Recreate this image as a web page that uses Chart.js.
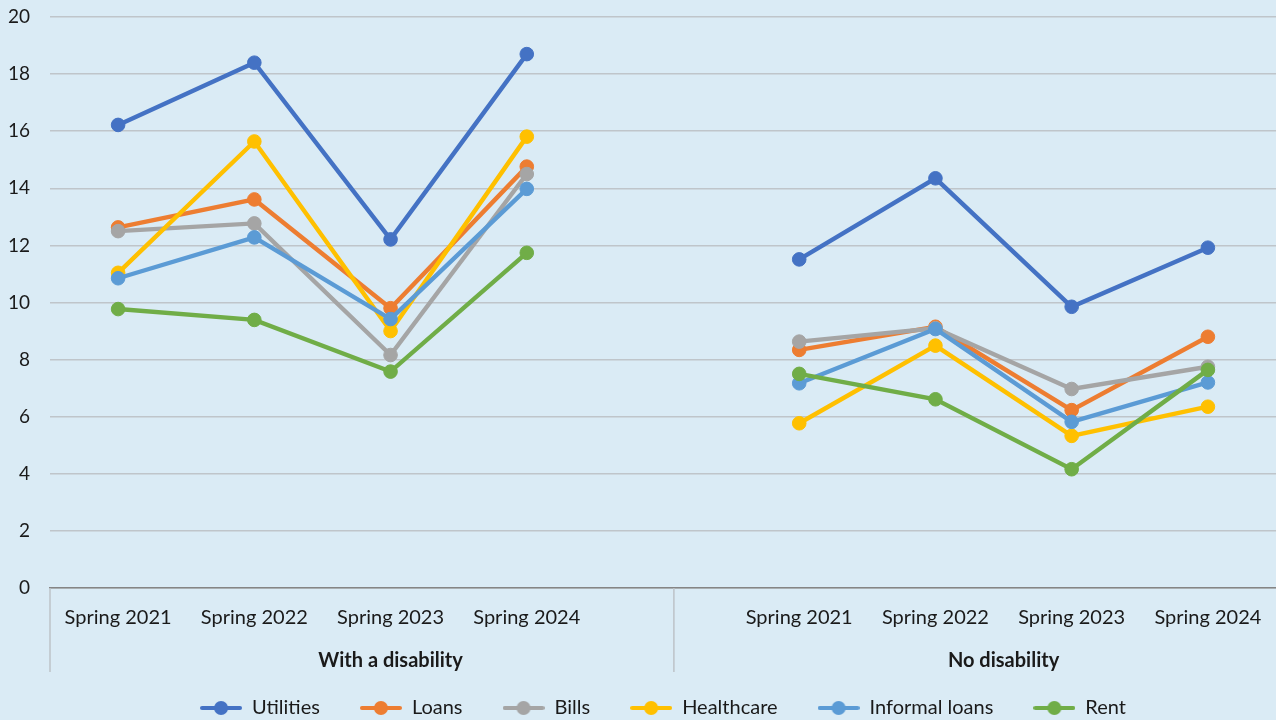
<!DOCTYPE html>
<html>
<head>
<meta charset="utf-8">
<title>Hardship by disability status</title>
<script src="https://cdn.jsdelivr.net/npm/chart.js@4.4.1/dist/chart.umd.min.js"></script>
<style>
  html, body { margin: 0; padding: 0; background: #DAEBF5; }
  #wrap { width: 1276px; height: 720px; position: relative; }
  canvas { display: block; }
</style>
</head>
<body>
<div id="wrap"><canvas id="chart" width="1276" height="720"></canvas></div>
<script>
// Category axis: two groups of survey waves, separated by a blank slot
const categories = ['Spring 2021', 'Spring 2022', 'Spring 2023', 'Spring 2024', '',
                    'Spring 2021', 'Spring 2022', 'Spring 2023', 'Spring 2024'];
const groupLabels = ['With a disability', 'No disability'];
const groupStarts = [0, 5];
const groupEnds = [4, 8];

const seriesNames = ['Utilities', 'Loans', 'Bills', 'Healthcare', 'Informal loans', 'Rent'];

const utilities     = [16.22, 18.40, 12.21, 18.70, null, 11.51, 14.35, 9.85, 11.92];
const loans         = [12.63, 13.61, 9.80, 14.76, null, 8.34, 9.15, 6.23, 8.80];
const bills         = [12.50, 12.77, 8.16, 14.50, null, 8.63, 9.10, 6.97, 7.75];
const healthcare    = [11.04, 15.64, 9.00, 15.81, null, 5.77, 8.49, 5.33, 6.35];
const informalLoans = [10.85, 12.28, 9.42, 13.98, null, 7.17, 9.07, 5.82, 7.20];
const rent          = [9.77, 9.39, 7.58, 11.74, null, 7.50, 6.61, 4.16, 7.64];

const yTicks = [0, 2, 4, 6, 8, 10, 12, 14, 16, 18, 20];

const seriesValues = [utilities, loans, bills, healthcare, informalLoans, rent];
const seriesColors = ['#4472C4', '#ED7D31', '#A5A5A5', '#FFC000', '#5B9BD5', '#70AD47'];

const BG = '#DAEBF5';
const FONT = 'Lato, "Noto Sans", sans-serif';
const TEXT = '#1a1a1a';
const FONT_SIZE = 20;

// Legend swatch: short line with a dot in the middle
function makeSwatch(color) {
  const c = document.createElement('canvas');
  c.width = 42; c.height = 16;
  const g = c.getContext('2d');
  g.strokeStyle = color; g.lineWidth = 4; g.lineCap = 'round';
  g.beginPath(); g.moveTo(2, 8); g.lineTo(40, 8); g.stroke();
  g.fillStyle = color;
  g.beginPath(); g.arc(21, 8, 7, 0, Math.PI * 2); g.fill();
  return c;
}
const swatches = seriesColors.map(makeSwatch);

const datasets = seriesNames.map((name, i) => ({
  label: name,
  data: seriesValues[i],
  borderColor: seriesColors[i],
  backgroundColor: seriesColors[i],
  pointBackgroundColor: seriesColors[i],
  pointBorderColor: seriesColors[i],
  pointBorderWidth: 1,
  pointRadius: 6.8,
  borderWidth: 4.4,
  tension: 0,
  spanGaps: false,
  clip: false,
  order: seriesNames.length - i
}));

// Page background, group labels and group dividers under the category axis
const decorations = {
  id: 'decorations',
  beforeDraw(chart) {
    const { ctx } = chart;
    ctx.save();
    ctx.fillStyle = BG;
    ctx.fillRect(0, 0, chart.width, chart.height);
    ctx.restore();
  },
  afterDraw(chart) {
    const { ctx, chartArea } = chart;
    const x = chart.scales.x;
    const catW = (chartArea.right - chartArea.left) / categories.length;
    const top = chartArea.bottom;
    const bottom = chartArea.bottom + 84;
    ctx.save();
    ctx.strokeStyle = '#BDC3C7';
    ctx.lineWidth = 1.5;
    const divider = x.getPixelForValue(4) + catW * 0.08;
    [chartArea.left, divider].forEach(px => {
      ctx.beginPath();
      ctx.moveTo(px, top);
      ctx.lineTo(px, bottom);
      ctx.stroke();
    });
    ctx.fillStyle = TEXT;
    ctx.font = 'bold ' + FONT_SIZE + 'px ' + FONT;
    ctx.textAlign = 'center';
    ctx.textBaseline = 'middle';
    groupLabels.forEach((lab, gi) => {
      const l = x.getPixelForValue(groupStarts[gi]) - catW / 2;
      const r = x.getPixelForValue(groupEnds[gi]) + catW / 2;
      ctx.fillText(lab, (l + r) / 2, chartArea.bottom + 72.5);
    });
    ctx.restore();
  }
};

new Chart(document.getElementById('chart'), {
  type: 'line',
  data: { labels: categories, datasets },
  plugins: [decorations],
  options: {
    responsive: false,
    animation: false,
    layout: { autoPadding: false, padding: { top: 17, left: 0, right: 0, bottom: 0 } },
    plugins: {
      tooltip: { enabled: false },
      legend: {
        position: 'bottom',
        fullSize: false,
        maxHeight: 62,
        labels: {
          usePointStyle: true,
          pointStyleWidth: 42,
          padding: 40,
          color: TEXT,
          font: { family: FONT, size: FONT_SIZE },
          sort: (a, b) => a.datasetIndex - b.datasetIndex,
          generateLabels(chart) {
            const items = Chart.defaults.plugins.legend.labels.generateLabels(chart);
            items.forEach(it => { it.pointStyle = swatches[it.datasetIndex]; });
            return items;
          }
        }
      }
    },
    scales: {
      x: {
        type: 'category',
        offset: true,
        grid: { display: false, drawTicks: false },
        border: { display: true, color: '#858585', width: 1.5 },
        ticks: {
          color: TEXT,
          font: { family: FONT, size: FONT_SIZE },
          padding: 18,
          maxRotation: 0,
          autoSkip: false
        },
        afterFit(scale) {
          scale.height = 70;
          scale.paddingLeft = 0;
          scale.paddingRight = 0;
        }
      },
      y: {
        min: 0,
        max: 20,
        afterBuildTicks(scale) { scale.ticks = yTicks.map(v => ({ value: v })); },
        grid: { color: '#BFC5CA', lineWidth: 1.5, drawTicks: false },
        border: { display: false },
        ticks: {
          color: TEXT,
          font: { family: FONT, size: 19 },
          padding: 20
        },
        afterFit(scale) {
          scale.width = 50;
          scale.paddingTop = 0;
          scale.paddingBottom = 0;
        }
      }
    }
  }
});
</script>
</body>
</html>
